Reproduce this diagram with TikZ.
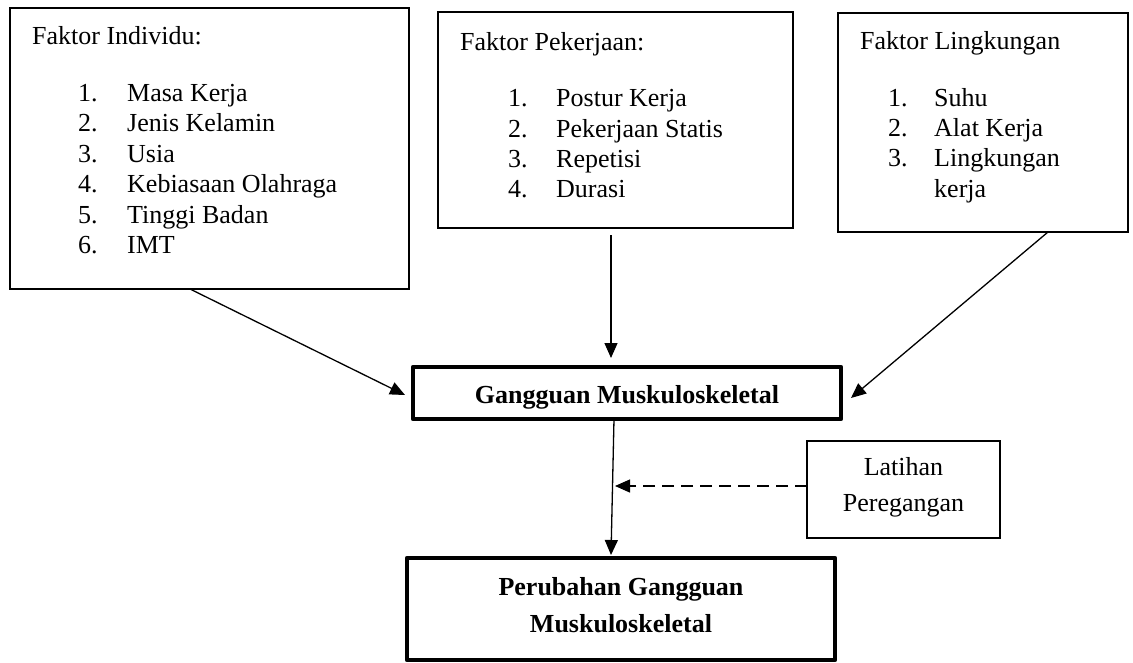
\documentclass[tikz,border=0pt]{standalone}
\usepackage{fontspec}
\setmainfont{Liberation Serif}
\usetikzlibrary{arrows.meta}
\begin{document}
\begin{tikzpicture}[x=1pt,y=-1pt,
  box/.style={draw, line width=1.6pt, inner sep=0pt, outer sep=0pt},
  thinbox/.style={draw, line width=1.2pt, inner sep=0pt, outer sep=0pt},
  thickbox/.style={draw, line width=4.5pt, line join=round, inner sep=0pt, outer sep=0pt},
  txt/.style={inner sep=0pt, anchor=base west, font=\fontsize{26}{30.5}\selectfont},
  ctxt/.style={inner sep=0pt, anchor=base, font=\fontsize{26}{30.5}\selectfont},
  btxt/.style={inner sep=0pt, anchor=base, font=\fontsize{26}{30.5}\selectfont\bfseries},
  arr/.style={line width=1.3pt, -{Triangle[length=15pt,width=13pt]}},
]
\useasboundingbox (0,0) rectangle (1133,662);

% boxes
\node[box, minimum width=399pt, minimum height=281pt] (b1) at (209.5,148.5) {};
\node[box, minimum width=355pt, minimum height=216pt] (b2) at (615.5,120) {};
\node[box, minimum width=290pt, minimum height=219pt] (b3) at (983,122.5) {};
\node[thickbox, minimum width=428pt, minimum height=52pt] (g) at (627,393) {};
\node[thinbox, minimum width=193pt, minimum height=97pt] (l) at (903.5,489.5) {};
\node[thickbox, minimum width=428pt, minimum height=102pt] (p) at (621,609) {};

% box 1 text
\node[txt] (t1) at (32,44) {Faktor Individu:};
\foreach \n/\t/\y in {1/Masa Kerja/101, 2/Jenis Kelamin/131, 3/Usia/162,
                      4/Kebiasaan Olahraga/192, 5/Tinggi Badan/223, 6/IMT/253}{
  \node[txt] (an\n) at (78,\y) {\n.};
  \node[txt] (at\n) at (127,\y) {\t};
}

% box 2 text
\node[txt] (t2) at (460,50) {Faktor Pekerjaan:};
\foreach \n/\t/\y in {1/Postur Kerja/106, 2/Pekerjaan Statis/137, 3/Repetisi/167, 4/Durasi/197}{
  \node[txt] (bn\n) at (508,\y) {\n.};
  \node[txt] (bt\n) at (556,\y) {\t};
}

% box 3 text
\node[txt] (t3) at (860,49) {Faktor Lingkungan};
\foreach \n/\t/\y in {1/Suhu/106, 2/Alat Kerja/136, 3/Lingkungan/166}{
  \node[txt] (cn\n) at (888,\y) {\n.};
  \node[txt] (ct\n) at (934,\y) {\t};
}
\node[txt] (ct4) at (934,197) {kerja};

% central texts
\node[btxt] (gt) at (627,403) {Gangguan Muskuloskeletal};
\node[btxt] (pt1) at (621,595) {Perubahan Gangguan};
\node[btxt] (pt2) at (621,632) {Muskuloskeletal};
\node[ctxt] (lt1) at (903.5,475) {Latihan};
\node[ctxt] (lt2) at (903.5,511) {Peregangan};

% connectors
\draw[arr] ([xshift=-19.5pt]b1.south) -- ([xshift=-8pt,yshift=-2pt]g.west);
\draw[arr] ([xshift=-4.5pt,yshift=-7pt]b2.south) -- ([xshift=-16pt,yshift=9pt]g.north);
\draw[arr] ([xshift=65pt]b3.south) -- ([xshift=10pt,yshift=-5pt]g.east);
\draw[arr] ([xshift=-13pt]g.south) -- ([xshift=-10pt,yshift=3pt]p.north);
\draw[arr, dash pattern=on 12pt off 7pt] ([yshift=3.5pt]l.west) -- ([xshift=-192pt,yshift=3.5pt]l.west);
\end{tikzpicture}
\end{document}
